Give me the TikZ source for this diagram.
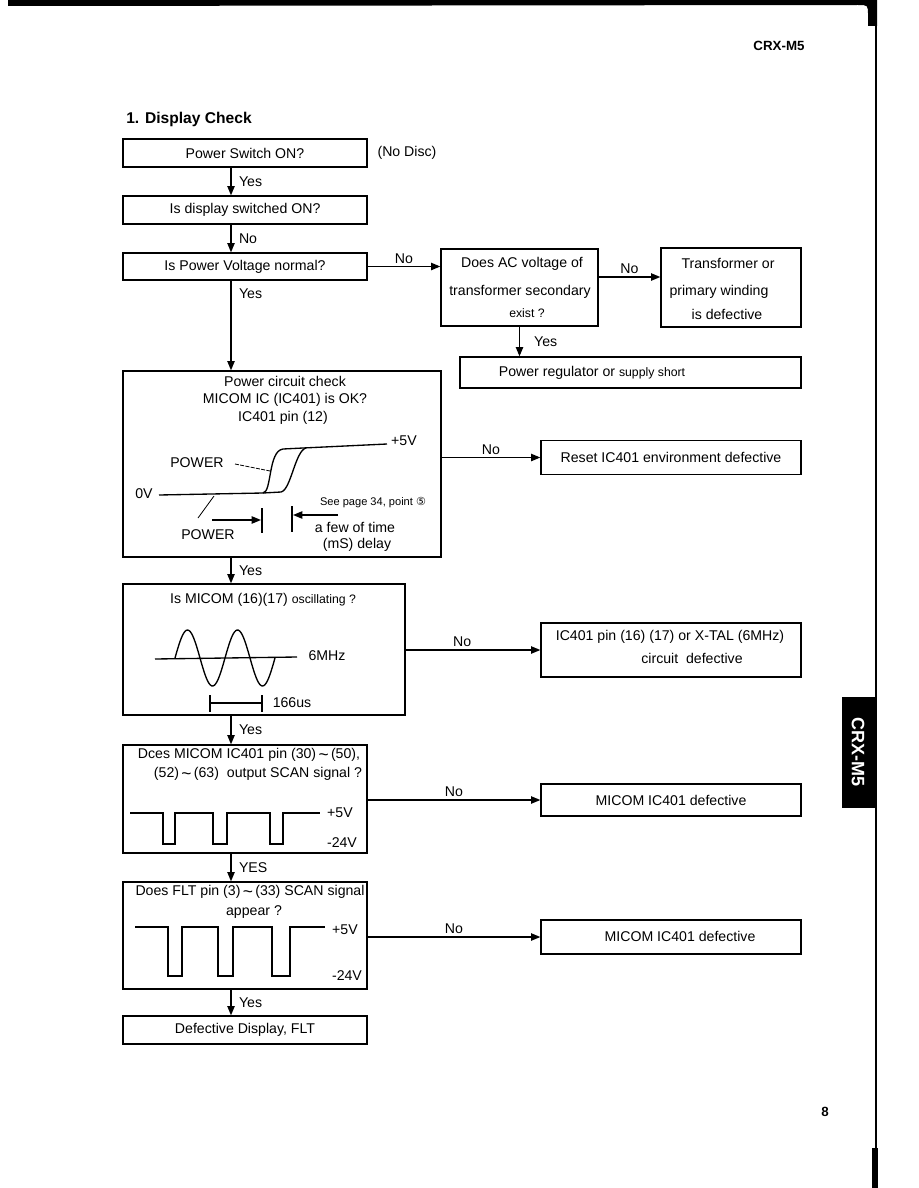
\documentclass[tikz,border=0pt]{standalone}
\usepackage{fontspec}
\setmainfont{Liberation Sans}
\newfontfamily\symfont{DejaVu Sans}
\usetikzlibrary{arrows.meta,calc}
\newcommand{\sm}{\fontsize{9.2}{11}\selectfont}
\newcommand{\xs}{\fontsize{8.3}{10}\selectfont}
\newcommand{\til}{\,\raisebox{-1.2pt}{\fontsize{13}{13}\selectfont\textasciitilde}\,}

\begin{document}
\begin{tikzpicture}[x=0.75pt, y=-0.75pt, line width=0.95pt,
  every node/.style={font=\fontsize{10.6}{12.6}\selectfont, inner sep=1pt},
  pbox/.style 2 args={draw, minimum width=#1*0.75pt, minimum height=#2*0.75pt, inner sep=0pt},
  arr/.style={-{Triangle[length=7pt,width=5.5pt]}, line width=1pt},
  ylab/.style={right=5.5pt, inner sep=0pt},
  nlab/.style={above=2pt, inner sep=0pt},
  wave/.style={line width=1pt}]
  \useasboundingbox (0,0) rectangle (918,1188);
  % page frame
  \fill (8,0) -- (877,0) -- (877,26) -- (868,26) -- (868,15) .. controls (868,5) .. (858,5) -- (8,6) -- cycle;
  \draw[line width=1.1pt] (876,26) -- (876,1150);
  \fill (872,1148) rectangle (878,1188);
  \fill (842,697) rectangle (875,808);
  \node[rotate=-90, text=white, font=\bfseries\fontsize{13.5}{14}\selectfont] (tab) at (858,752) {CRX-M5};
  \node[font=\bfseries\fontsize{10}{12}\selectfont] (model) at (779,46) {CRX-M5};
  \node[font=\bfseries\fontsize{10}{12}\selectfont] (page) at (825,1112) {8};
  \node[font=\bfseries\fontsize{11.7}{14}\selectfont] (title) at (189,119) {1. Display Check};
  \coordinate (spine) at (231,0);

  % boxes
  \node[pbox={244}{28}] (pwr) at (245,153) {Power Switch ON?};
  \node (nodisc) at (407,153) {(No Disc)};
  \node[pbox={244}{28}] (disp) at (245,210) {Is display switched ON?};
  \node[pbox={244}{27}] (volt) at (245,266.5) {Is Power Voltage normal?};
  \node[pbox={157}{77}] (ac) at (519.5,287.5) {};
  \node (ac1) at (522,264) {Does AC voltage of};
  \node (ac2) at (520,292) {transformer secondary};
  \node[font=\sm] (ac3) at (527,313) {exist ?};
  \node[pbox={140}{79}] (tr) at (731,287.5) {};
  \node (tr1) at (728,263) {Transformer or};
  \node (tr2) at (719,292) {primary winding};
  \node (tr3) at (727,314) {is defective};
  \node[pbox={341}{31}] (reg) at (630.5,372.5) {};
  \node (reg1) at (592,373) {Power regulator or {\sm supply short}};
  \node[pbox={318}{186}] (pcc) at (282,464) {};
  \node[pbox={260}{34}] (reset) at (671,457.5) {Reset IC401 environment defective};
  \node[pbox={282}{131}] (osc) at (264,649.5) {};
  \node[pbox={260}{54}] (xtal) at (671,650) {};
  \node (xt1) at (670,637) {IC401 pin (16) (17) or X-TAL (6MHz)};
  \node (xt2) at (692,658) {circuit\ \ defective};
  \node[pbox={244}{108}] (scan) at (245,799) {};
  \node[pbox={260}{32}] (mic1) at (671,800) {MICOM IC401 defective};
  \node[pbox={244}{107}] (flt) at (245,935.5) {};
  \node[pbox={260}{34}] (mic2) at (671,937) {};
  \node (mic2t) at (680,936) {MICOM IC401 defective};
  \node[pbox={244}{28}] (defect) at (245,1030) {Defective Display, FLT};

  % connectors
  \draw[arr] (pwr.south -| spine) -- node[ylab]{Yes} (disp.north -| spine);
  \draw[arr] (disp.south -| spine) -- node[ylab]{No} (volt.north -| spine);
  \draw[arr] (volt.east) -- node[nlab]{No} (volt.east -| ac.west);
  \draw[arr] ($(ac.east)+(0,-10.5)$) -- node[nlab]{No} ($(tr.west)+(0,-10.5)$);
  \draw[arr] (ac.south) -- node[right=10.5pt, inner sep=0pt]{Yes} (ac.south |- reg.north);
  \draw[arr] (volt.south -| spine) -- node[ylab, pos=0.15]{Yes} (pcc.north -| spine);
  \draw[arr] (pcc.east |- reset.west) -- node[nlab]{No} (reset.west);
  \draw[arr] (pcc.south -| spine) -- node[ylab]{Yes} (osc.north -| spine);
  \draw[arr] (osc.east |- xtal.west) -- node[nlab, pos=0.42]{No} (xtal.west);
  \draw[arr] (osc.south -| spine) -- node[ylab]{Yes} (scan.north -| spine);
  \draw[arr] (scan.east |- mic1.west) -- node[nlab]{No} (mic1.west);
  \draw[arr] (scan.south -| spine) -- node[ylab]{YES} (flt.north -| spine);
  \draw[arr] (flt.east |- mic2.west) -- node[nlab]{No} (mic2.west);
  \draw[arr] (flt.south -| spine) -- node[ylab]{Yes} (defect.north -| spine);

  % power circuit check
  \node (pc1) at (285,381) {Power circuit check};
  \node (pc2) at (285,400) {MICOM IC (IC401) is OK?};
  \node (pc3) at (283,418) {IC401 pin (12)};
  \node (zero) at (144,494) {0V};
  \draw[wave] (159,495) -- (263,493) .. controls (272,492) and (268,451) .. (283,449) -- (303,448) -- (387,444);
  \draw[wave] (263,493) -- (281,492) .. controls (291,490) and (295,451) .. (306,448);
  \node (plus) at (404,441) {+5V};
  \node (pw1) at (197,463) {POWER};
  \draw[line width=0.6pt, dash pattern=on 3pt off 1pt] (235,464) -- (270,471);
  \draw[line width=0.6pt] (198,518) -- (214,496);
  \node (pw2) at (208,535) {POWER};
  \draw[arr] (212,520) -- (261,520);
  \draw[wave] (262,508) -- (262,533);
  \draw[wave] (292,506) -- (292,532);
  \draw[arr] (338,515) -- (293,515);
  \node[font=\xs] (seep) at (373,503) {See page 34, point {\symfont ⑤}};
  \node (few) at (355,527) {a few of time};
  \node (delay) at (357,545) {(mS) delay};

  % oscillation
  \node (osct) at (263,600) {Is MICOM (16)(17) {\sm oscillating ?}};
  \draw[wave] (155,659) -- (297,657);
  \draw[wave] plot[domain=0:2, samples=80, smooth] ({175+50*\x},{658-28*sin(360*\x)});
  \node (mhz) at (327,656) {6MHz};
  \draw[wave] (210,703) -- (262,703);
  \draw[wave] (210,695) -- (210,712);
  \draw[wave] (262,695) -- (262,712);
  \node (us) at (292,703) {166us};

  % scan signal
  \node (sc1) at (249,755) {Dces MICOM IC401 pin (30)\til(50),};
  \node (sc2) at (258,774) {(52)\til(63)\ \ output SCAN signal ?};
  \draw[wave] (130,813) -- (163,813) -- (163,844) -- (175,844) -- (175,813) -- (213,813) -- (213,844) -- (227,844) -- (227,813) -- (270,813) -- (270,844) -- (283,844) -- (283,813) -- (320,813);
  \node (sc5) at (340,813) {+5V};
  \node (sc24) at (342,843) {-24V};

  % FLT scan signal
  \node (fl1) at (250,892) {Does FLT pin (3)\til(33) SCAN signal};
  \node (fl2) at (254,912) {appear ?};
  \draw[wave] (135,927) -- (168,927) -- (168,976) -- (182,976) -- (182,927) -- (218,927) -- (218,976) -- (233,976) -- (233,927) -- (272,927) -- (272,976) -- (290,976) -- (290,927) -- (325,927);
  \node (fl5) at (345,930) {+5V};
  \node (fl24) at (347,976) {-24V};
\end{tikzpicture}
\end{document}
